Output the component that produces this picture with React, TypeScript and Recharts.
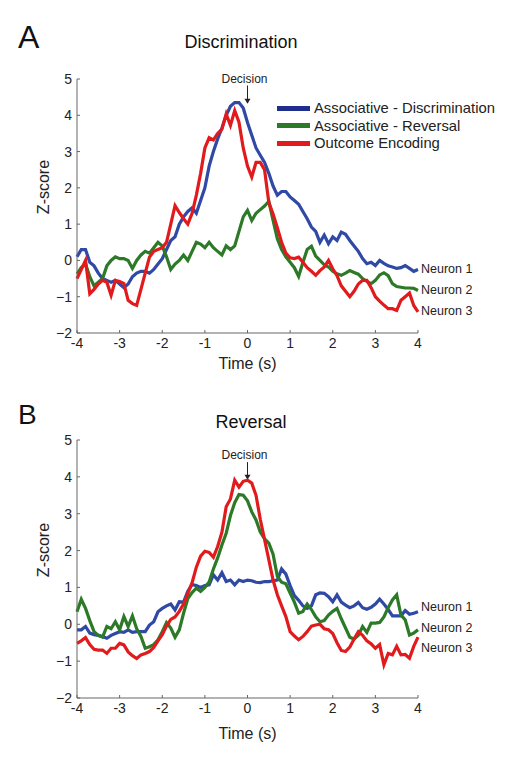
import React from "react";
import { LineChart, Line, XAxis, YAxis, ReferenceLine } from "recharts";

// sampling grid (s), 0.1 s bins
const TIME = [
  -4.0, -3.9, -3.8, -3.7, -3.6, -3.5, -3.4, -3.3, -3.2, -3.1,
  -3.0, -2.9, -2.8, -2.7, -2.6, -2.5, -2.4, -2.3, -2.2, -2.1,
  -2.0, -1.9, -1.8, -1.7, -1.6, -1.5, -1.4, -1.3, -1.2, -1.1,
  -1.0, -0.9, -0.8, -0.7, -0.6, -0.5, -0.4, -0.3, -0.2, -0.1,
  0.0, 0.1, 0.2, 0.3, 0.4, 0.5, 0.6, 0.7, 0.8, 0.9,
  1.0, 1.1, 1.2, 1.3, 1.4, 1.5, 1.6, 1.7, 1.8, 1.9,
  2.0, 2.1, 2.2, 2.3, 2.4, 2.5, 2.6, 2.7, 2.8, 2.9,
  3.0, 3.1, 3.2, 3.3, 3.4, 3.5, 3.6, 3.7, 3.8, 3.9,
  4.0,
];

const X_TICKS = [-4, -3, -2, -1, 0, 1, 2, 3, 4];
const Y_TICKS = [-2, -1, 0, 1, 2, 3, 4, 5];

const SERIES_NAMES = ["Associative - Discrimination", "Associative - Reversal", "Outcome Encoding"];
const NEURON_LABELS = ["Neuron 1", "Neuron 2", "Neuron 3"];

// Panel A — Discrimination
const DISC_N1 = [
  0.1, 0.3, 0.3, -0.05, -0.15, -0.35, -0.5, -0.55, -0.6, -0.55,
  -0.65, -0.75, -0.65, -0.45, -0.35, -0.3, -0.3, -0.35, -0.25, -0.1,
  0.05, 0.3, 0.55, 0.65, 1.0, 1.2, 1.35, 1.45, 1.3, 1.65,
  2.0, 2.6, 3.0, 3.35, 3.65, 4.0, 4.25, 4.35, 4.35, 4.2,
  3.8, 3.45, 3.1, 2.9, 2.7, 2.4, 2.05, 1.8, 1.9, 1.9,
  1.75, 1.65, 1.55, 1.35, 1.15, 0.92, 0.8, 0.5, 0.7, 0.46,
  0.65, 0.55, 0.78, 0.72, 0.55, 0.4, 0.25, 0.05, -0.09, -0.05,
  -0.14, 0.0, -0.08, -0.15, -0.18, -0.22, -0.2, -0.14, -0.22, -0.3,
  -0.25,
];
const DISC_N2 = [
  -0.37, -0.2, -0.1, -0.45, -0.7, -0.6, -0.5, -0.15, 0.0, 0.1,
  0.05, 0.05, 0.0, -0.22, 0.0, 0.15, 0.25, 0.2, 0.35, 0.5,
  0.4, 0.1, -0.25, -0.1, 0.0, 0.15, 0.0, 0.25, 0.5, 0.45,
  0.35, 0.5, 0.35, 0.25, 0.15, 0.4, 0.3, 0.4, 0.8, 1.2,
  1.38, 1.1, 1.3, 1.4, 1.5, 1.63, 1.1, 0.6, 0.3, 0.1,
  -0.05, -0.2, -0.44, -0.05, 0.3, 0.39, 0.12, 0.0, -0.12, -0.18,
  -0.3, -0.37, -0.41, -0.35, -0.28, -0.33, -0.38, -0.5, -0.58, -0.64,
  -0.55, -0.4, -0.34, -0.42, -0.64, -0.72, -0.74, -0.76, -0.76, -0.77,
  -0.83,
];
const DISC_N3 = [
  -0.5, -0.25, 0.0, -0.92, -0.8, -0.65, -0.55, -0.6, -0.96, -0.55,
  -0.58, -0.64, -1.1, -1.19, -1.24, -0.8, -0.35, 0.09, 0.25, 0.3,
  0.35, 0.5, 1.0, 1.51, 1.32, 1.15, 1.0, 1.3, 1.8, 2.4,
  3.1, 3.38, 3.32, 3.5, 3.62, 4.04, 3.72, 4.13, 3.81, 3.1,
  2.6, 2.3, 2.7, 2.7, 2.5, 1.6, 1.28, 0.9, 0.5, 0.2,
  0.07, 0.05, 0.09, -0.05, -0.2, -0.3, -0.41, -0.28, -0.18, 0.0,
  -0.23, -0.42, -0.7, -0.85, -1.0, -0.85, -0.65, -0.55, -0.55, -0.75,
  -1.0, -1.12, -1.23, -1.33, -1.33, -1.38, -1.1, -1.0, -0.9, -1.24,
  -1.42,
];

// Panel B — Reversal
const REV_N1 = [
  -0.15, -0.15, -0.06, -0.24, -0.28, -0.3, -0.33, -0.38, -0.3, -0.25,
  -0.2, -0.22, -0.15, -0.22, -0.2, -0.2, -0.2, -0.02, 0.07, 0.34,
  0.43, 0.5, 0.55, 0.39, 0.61, 0.6, 0.9, 1.08, 1.05, 1.0,
  1.05, 1.07, 1.34, 1.2, 1.4, 1.16, 1.2, 1.07, 1.2, 1.16,
  1.2, 1.18, 1.14, 1.13, 1.16, 1.16, 1.18, 1.2, 1.5, 1.36,
  1.05, 0.78, 0.65, 0.5, 0.43, 0.5, 0.8, 0.85, 0.84, 0.75,
  0.61, 0.8, 0.6, 0.52, 0.45, 0.5, 0.59, 0.45, 0.41, 0.46,
  0.55, 0.68, 0.55, 0.4, 0.23, 0.23, 0.23, 0.37, 0.27, 0.3,
  0.34,
];
const REV_N2 = [
  0.34, 0.68, 0.43, 0.1, -0.2, -0.3, -0.35, -0.06, -0.12, 0.07,
  -0.15, 0.21, -0.06, 0.23, -0.12, -0.33, -0.65, -0.61, -0.55, -0.42,
  -0.2, 0.05, -0.1, -0.35, -0.15, 0.3, 0.7, 0.86, 0.98, 0.89,
  1.0, 1.15, 1.5, 1.8, 2.15, 2.47, 2.95, 3.3, 3.52, 3.5,
  3.35, 3.05, 2.83, 2.5, 2.32, 2.2, 1.9, 1.3, 1.14, 1.1,
  0.85, 0.6, 0.3, 0.35, 0.55, 0.4, 0.2, 0.07, 0.1, 0.25,
  0.35, 0.43, 0.15, -0.1, -0.35, -0.4, -0.3, -0.06, -0.22, 0.03,
  0.03, 0.05, 0.2, 0.45, 0.66, 0.8, 0.25, 0.12, -0.29, -0.24,
  -0.15,
];
const REV_N3 = [
  -0.52, -0.45, -0.36, -0.55, -0.68, -0.7, -0.7, -0.79, -0.65, -0.65,
  -0.52, -0.56, -0.75, -0.85, -0.93, -0.83, -0.79, -0.74, -0.63, -0.45,
  -0.28, -0.05, 0.13, 0.2, 0.35, 0.55, 0.84, 1.13, 1.55, 1.85,
  1.98, 1.95, 1.82, 2.11, 2.5, 3.19, 3.4, 3.91, 3.72, 3.88,
  3.91, 3.83, 3.5, 2.85, 2.3, 1.75, 1.2, 0.8, 0.5, 0.21,
  -0.2, -0.32, -0.42, -0.33, -0.2, -0.05, -0.02, 0.0, -0.12, -0.15,
  -0.25, -0.5, -0.71, -0.74, -0.62, -0.4, -0.2, -0.3, -0.45, -0.53,
  -0.65, -0.55, -1.1, -0.79, -0.83, -0.6, -0.83, -0.82, -0.92, -0.6,
  -0.35,
];

const COLORS = ["#2f49a5", "#2c7a28", "#e11b1d"];
const LEGEND_COLORS = ["#1f2d8d", "#2c7a28", "#e11b1d"];
const FONT = "'Liberation Sans', Arial, Helvetica, sans-serif";
const AXIS = "#666";

const toRows = (a: number[], b: number[], c: number[]) =>
  TIME.map((t, i) => ({ t, n1: a[i], n2: b[i], n3: c[i] }));

const fmtY = (v: number) => (v < 0 ? `\u2212${Math.abs(v)}` : `${v}`);

function decisionShape(props: any) {
  const { x1, y1, x2, y2 } = props;
  return (
    <g>
      <text x={x1 - 3} y={y1 - 3} textAnchor="middle" fontSize={12} fill="#222" fontFamily={FONT}>
        Decision
      </text>
      <line x1={x1} y1={y1} x2={x2} y2={y2 - 4} stroke="#222" strokeWidth={1} />
      <polygon points={`${x2 - 3},${y2 - 5} ${x2 + 3},${y2 - 5} ${x2},${y2}`} fill="#222" />
    </g>
  );
}

type PanelProps = {
  letter: string;
  letterSize: number;
  letterTop: number;
  title: string;
  titleX: number;
  titleTop: number;
  height: number;
  data: { t: number; n1: number; n2: number; n3: number }[];
  decision: [number, number];
  labelYs: number[];
  timeOffset: number;
  legend?: boolean;
};

function Panel(p: PanelProps) {
  return (
    <div style={{ position: "relative", width: 514, height: p.height }}>
      <div
        style={{
          position: "absolute",
          left: 18,
          top: p.letterTop,
          fontSize: p.letterSize,
          lineHeight: `${p.letterSize}px`,
          color: "#111",
        }}
      >
        {p.letter}
      </div>
      <div
        style={{
          position: "absolute",
          left: p.titleX - 100,
          width: 200,
          top: p.titleTop,
          textAlign: "center",
          fontSize: 18,
          lineHeight: "20px",
          color: "#111",
        }}
      >
        {p.title}
      </div>
      <LineChart
        width={514}
        height={p.height}
        data={p.data}
        margin={{ top: 79, right: 96, left: 0, bottom: 0 }}
        style={{ position: "absolute", left: 0, top: 0 }}
      >
        <XAxis
          dataKey="t"
          type="number"
          domain={[-4, 4]}
          ticks={X_TICKS}
          height={47}
          tickSize={-3}
          tickMargin={8}
          axisLine={{ stroke: AXIS }}
          tickLine={{ stroke: AXIS }}
          tick={{ fontSize: 14, fill: "#222", fontFamily: FONT }}
          label={{
            value: "Time (s)",
            position: "insideBottom",
            offset: p.timeOffset,
            fontSize: 16,
            fill: "#222",
            fontFamily: FONT,
          }}
        />
        <YAxis
          type="number"
          domain={[-2, 5]}
          ticks={Y_TICKS}
          width={77}
          tickSize={-3}
          tickMargin={8}
          tickFormatter={fmtY}
          axisLine={{ stroke: AXIS }}
          tickLine={{ stroke: AXIS }}
          tick={{ fontSize: 14, fill: "#222", fontFamily: FONT }}
          label={{
            content: ({ viewBox }: any) => {
              const cx = viewBox.x + 43;
              const cy = viewBox.y + viewBox.height / 2 - 19;
              return (
                <text
                  x={cx}
                  y={cy}
                  transform={`rotate(-90, ${cx}, ${cy})`}
                  textAnchor="middle"
                  dominantBaseline="central"
                  fontSize={16}
                  fill="#222"
                  fontFamily={FONT}
                >
                  Z-score
                </text>
              );
            },
          }}
        />
        <ReferenceLine
          segment={[
            { x: 0, y: p.decision[0] },
            { x: 0, y: p.decision[1] },
          ]}
          shape={decisionShape}
        />
        <Line dataKey="n1" stroke={COLORS[0]} strokeWidth={3.2} dot={false} isAnimationActive={false} />
        <Line dataKey="n2" stroke={COLORS[1]} strokeWidth={3.2} dot={false} isAnimationActive={false} />
        <Line dataKey="n3" stroke={COLORS[2]} strokeWidth={3.2} dot={false} isAnimationActive={false} />
      </LineChart>
      {NEURON_LABELS.map((n, i) => (
        <div
          key={n}
          style={{
            position: "absolute",
            left: 421,
            top: p.labelYs[i] - 8,
            fontSize: 12.5,
            lineHeight: "16px",
            color: "#222",
          }}
        >
          {n}
        </div>
      ))}
      {p.legend &&
        SERIES_NAMES.map((s, i) => (
          <div
            key={s}
            style={{
              position: "absolute",
              left: 277,
              top: 99 + i * 17.5,
              display: "flex",
              alignItems: "center",
              height: 18,
            }}
          >
            <span
              style={{ display: "inline-block", width: 33, height: 5, background: LEGEND_COLORS[i], marginRight: 4 }}
            />
            <span style={{ fontSize: 14.8, color: "#222", whiteSpace: "nowrap" }}>{s}</span>
          </div>
        ))}
    </div>
  );
}

export default function App() {
  const discData = toRows(DISC_N1, DISC_N2, DISC_N3);
  const revData = toRows(REV_N1, REV_N2, REV_N3);
  return (
    <div
      style={{ position: "absolute", left: 0, top: 0, width: 514, height: 769, background: "#fff", fontFamily: FONT }}
    >
      <Panel
        letter="A"
        letterSize={32}
        letterTop={21}
        title="Discrimination"
        titleX={241}
        titleTop={32}
        height={380}
        data={discData}
        decision={[4.82, 4.32]}
        labelYs={[269, 290, 311]}
        timeOffset={11}
        legend
      />
      <div style={{ position: "absolute", left: 0, top: 361 }}>
        <Panel
          letter="B"
          letterSize={28}
          letterTop={40}
          title="Reversal"
          titleX={251}
          titleTop={51}
          height={384}
          data={revData}
          decision={[4.4, 3.92]}
          labelYs={[246, 267, 287]}
          timeOffset={6}
        />
      </div>
    </div>
  );
}
